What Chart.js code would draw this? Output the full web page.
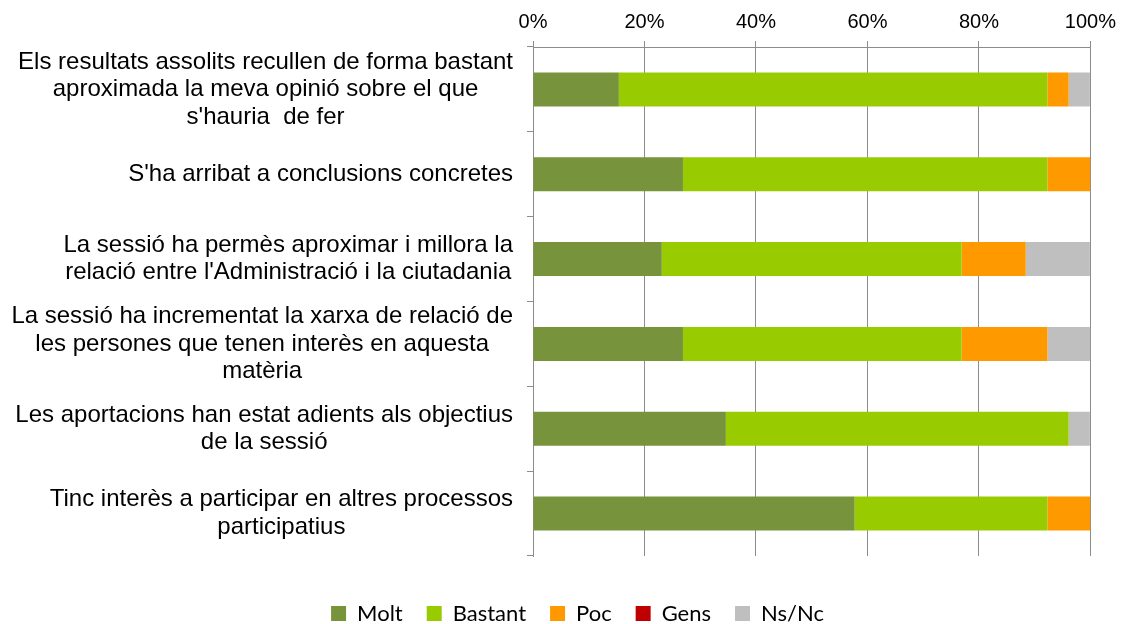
<!DOCTYPE html>
<html>
<head>
<meta charset="utf-8">
<script src="https://cdn.jsdelivr.net/npm/chart.js@4"></script>
<style>
    body { margin: 0; background: #ffffff; }
    #wrap { width: 1123px; height: 624px; }
</style>
</head>
<body>
<div id="wrap"><canvas id="chart" width="1123" height="624"></canvas></div>
<script>
// Category labels (one array of lines per row)
const categories = [
    ['Els resultats assolits recullen de forma bastant', 'aproximada la meva opinió sobre el que', "s'hauria  de fer"],
    ["S'ha arribat a conclusions concretes"],
    ['La sessió ha permès aproximar i millora la', "relació entre l'Administració i la ciutadania"],
    ['La sessió ha incrementat la xarxa de relació de', 'les persones que tenen interès en aquesta', 'matèria'],
    ['Les aportacions han estat adients als objectius', 'de la sessió'],
    ['Tinc interès a participar en altres processos', 'participatius']
];

// Series values (% of answers)
const molt    = [15.4, 26.9, 23.1, 26.9, 34.6, 57.7];
const bastant = [76.9, 65.4, 53.8, 50.0, 61.5, 34.6];
const poc     = [3.8, 7.7, 11.5, 15.4, 0, 7.7];
const gens    = [0, 0, 0, 0, 0, 0];
const nsnc    = [3.8, 0, 11.5, 7.7, 3.8, 0];

const seriesNames = ['Molt', 'Bastant', 'Poc', 'Gens', 'Ns/Nc'];
const seriesColors = ['#77933C', '#99CC00', '#FF9900', '#C00000', '#BFBFBF'];

// Tick labels of the value axis
const xTicks = [0, 20, 40, 60, 80, 100];

const gridColor = '#8c8c8c';
const labelFont = '24px "Liberation Sans", Arial, sans-serif';
const labelLineHeight = 27.5;

/**
 * Draw the category labels: each block right-aligned to the axis,
 * its lines centered inside the block
 */
const categoryLabels = {
    id: 'categoryLabels',
    afterDraw(chart) {
        const ctx = chart.ctx;
        const yScale = chart.scales.y;
        const rightEdge = chart.chartArea.left - 20;
        ctx.save();
        ctx.font = labelFont;
        ctx.fillStyle = '#000000';
        ctx.textAlign = 'center';
        ctx.textBaseline = 'middle';
        categories.forEach((lines, i) => {
            const yc = yScale.getPixelForValue(i);
            const widest = Math.max(...lines.map(l => ctx.measureText(l).width));
            const xc = rightEdge - widest / 2;
            lines.forEach((line, j) => {
                const y = yc + (j - (lines.length - 1) / 2) * labelLineHeight;
                ctx.fillText(line, xc, y);
            });
        });
        ctx.restore();
    }
};

const datasets = [molt, bastant, poc, gens, nsnc].map((values, i) => ({
    label: seriesNames[i],
    data: values,
    backgroundColor: seriesColors[i],
    borderWidth: 0,
    barPercentage: 0.4,
    categoryPercentage: 1.0
}));

new Chart(document.getElementById('chart'), {
    type: 'bar',
    data: {
        labels: categories.map(c => c.join(' ')),
        datasets: datasets
    },
    options: {
        indexAxis: 'y',
        responsive: false,
        animation: false,
        layout: {
            padding: { left: 64, right: 32, top: 0, bottom: -10.5 }
        },
        scales: {
            x: {
                position: 'top',
                stacked: true,
                min: 0,
                max: 100,
                afterBuildTicks(scale) {
                    scale.ticks = xTicks.map(v => ({ value: v }));
                },
                afterFit(scale) {
                    scale.height = 47;
                },
                ticks: {
                    padding: 7,
                    color: '#000000',
                    font: { family: '"Liberation Sans", Arial, sans-serif', size: 20 },
                    callback: v => v + '%'
                },
                grid: {
                    color: gridColor,
                    lineWidth: 1,
                    tickLength: 6
                },
                border: { display: true, color: gridColor }
            },
            y: {
                stacked: true,
                afterFit(scale) {
                    scale.width = 469;
                },
                ticks: { display: false },
                grid: {
                    offset: true,
                    drawOnChartArea: false,
                    color: gridColor,
                    tickLength: 6
                },
                border: { display: true, color: gridColor }
            }
        },
        plugins: {
            legend: {
                position: 'bottom',
                title: {
                    display: true,
                    text: '',
                    font: { size: 1 },
                    padding: { top: 21.3, bottom: 0 }
                },
                labels: {
                    boxWidth: 15,
                    boxHeight: 15,
                    padding: 24,
                    color: '#000000',
                    font: { family: 'Lato, "Open Sans", sans-serif', size: 22 }
                }
            },
            tooltip: { enabled: false }
        }
    },
    plugins: [categoryLabels]
});
</script>
</body>
</html>
